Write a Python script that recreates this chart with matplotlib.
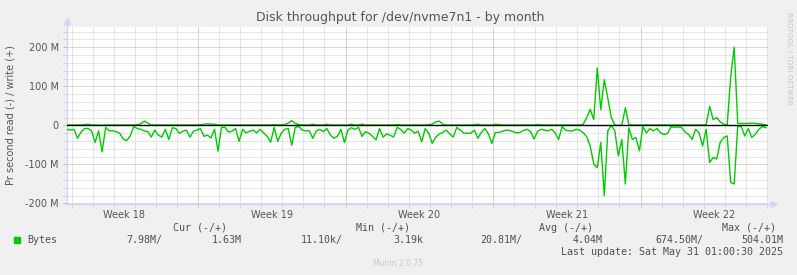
import numpy as np
import matplotlib
matplotlib.use("Agg")
import matplotlib.pyplot as plt
from matplotlib.patches import Rectangle

# ---------------- data (MB/s, 4-hour samples) ----------------
read_mb = [
    10, 12, 10, 33, 17, 8, 8, 14, 44, 14,
    68, 5, 14, 14, 16, 20, 35, 39, 27, 3,
    8, 10, 14, 16, 30, 12, 25, 30, 10, 36,
    6, 8, 20, 15,
    12, 30, 15, 12, 8, 28, 25, 32, 10, 66,
    5, 5, 17, 15, 8, 41, 10, 19, 15, 12,
    19, 10, 19, 28, 43, 5, 41, 20, 10, 8,
    51, 5, 3, 12,
    14, 14, 33, 14, 10, 16, 8, 25, 33, 28,
    10, 44, 12, 6, 10, 5, 28, 16, 20, 28,
    37, 8, 30, 22, 25, 30, 5, 10, 20, 8,
    12, 20, 15, 42,
    8, 20, 46, 30, 22, 18, 12, 22, 30, 5,
    12, 20, 20, 20, 12, 33, 18, 8, 22, 46,
    18, 18, 15, 12, 13, 16, 19, 18, 13, 10,
    16, 35, 15, 10,
    12, 14, 10, 19, 36, 3, 12, 14, 14, 10,
    12, 19, 29, 53, 99, 108, 44, 180, 14, 0,
    14, 78, 36, 150, 6, 36, 31, 65, 3, 19,
    8, 14, 8, 19, 23,
    21, 3, 5, 4, 5, 17, 23, 36, 10, 19,
    53, 10, 95, 82, 86, 44, 31, 27, 146, 150,
    2, 3, 27, 8, 31, 23, 10, 3, 6,
]
write_mb = [
    1, 1, 1, 1, 1, 2, 3, 1, 1, 1,
    0, 1, 1, 1, 1, 1, 1, 1, 1, 1,
    2, 4, 11, 6, 1, 1, 1, 1, 1, 1,
    1, 1, 1, 1, 1, 1, 1, 1, 2, 3,
    4, 3, 3, 1, 1, 1, 1, 1, 1, 1,
    1, 1, 1, 1, 1, 1, 1, 1, 1, 2,
    1, 1, 2, 6, 12, 5, 2, 1, 1, 1,
    3, 1, 1, 1, 3, 1, 1, 1, 1, 1,
    1, 3, 1, 1, 3, 1, 1, 1, 1, 1,
    1, 1, 1, 1, 2, 1, 1, 1, 1, 1,
    1, 1, 1, 2, 3, 9, 11, 3, 1, 1,
    1, 1, 1, 1, 1, 1, 2, 3, 1, 1,
    1, 1, 3, 2, 1, 1, 1, 1, 1, 1,
    1, 1, 1, 1, 2, 1, 1, 1, 1, 1,
    1, 1, 1, 1, 1, 1, 1, 3, 20, 41,
    15, 147, 40, 117, 70, 20, 1, 0, 1, 45,
    2, 1, 1, 1, 1, 1, 1, 1, 1, 1,
    1, 1, 1, 1, 1, 1, 1, 1, 1, 1,
    1, 1, 2, 49, 15, 20, 9, 3, 1, 125,
    200, 5, 5, 5, 5, 6, 5, 4, 3, 1,
]
samples_per_day = 6
week_names = ["Week 18", "Week 19", "Week 20", "Week 21", "Week 22"]
first_day_line = 0.22
first_week_start = 6.22
span_days = 33.27
y_major = [-200, -100, 0, 100, 200]
y_major_labels = ["-200 M", "-100 M", "0", "100 M", "200 M"]
y_range = (-200, 252)

title = "Disk throughput for /dev/nvme7n1 - by month"
ylabel = "Pr second read (-) / write (+)"
legend_headers = ["Cur (-/+)", "Min (-/+)", "Avg (-/+)", "Max (-/+)"]
legend_values = ["7.98M/", "1.63M", "11.10k/", "3.19k",
                 "20.81M/", "4.04M", "674.50M/", "504.01M"]
series_name = "Bytes"
last_update = "Last update: Sat May 31 01:00:30 2025"
footer = "Munin 2.0.75"
side_note = "RRDTOOL / TOBI OETIKER"

# ---------------- styling ----------------
W, H = 797, 275
BG = "#F0F0F0"
GREEN = "#00CC00"
AXIS_C = "#CFD6F8"
GRID_C = "#CFCFCF"
MGRID_C = "#E8A4A4"
TXT = "#555555"

fig = plt.figure(figsize=(W / 100, H / 100), dpi=100, facecolor=BG)
L, R, T, B = 67, 768, 27, 203.5
ax = fig.add_axes([L / W, 1 - B / H, (R - L) / W, (B - T) / H])
ax.set_facecolor("white")


def fx(px):
    return px / W


def fy(py):
    return 1 - py / H


x = np.arange(len(read_mb)) / samples_per_day
ax.set_xlim(0, span_days)
ax.set_ylim(*y_range)

# grid
day_lines = np.arange(first_day_line, span_days, 1.0)
week_lines = np.arange(first_week_start, span_days, 7.0)
week_label_pos = np.concatenate(([first_week_start - 3.5], week_lines + 3.5))
ax.set_xticks(week_label_pos[:len(week_names)], week_names)
ax.set_xticks(day_lines, minor=True)
ax.set_yticks(y_major, y_major_labels)
ax.set_yticks(np.arange(-200, 252, 20), minor=True)

dots = (0, (1, 1))
ax.grid(True, which="minor", axis="both", color=GRID_C, lw=0.72, ls=dots, zorder=0)
ax.grid(True, which="major", axis="y", color=MGRID_C, lw=0.72, ls=dots, zorder=0)
ax.grid(False, which="major", axis="x")
for wl in week_lines:
    ax.axvline(wl, ymin=-0.02, ymax=1, color=MGRID_C, lw=0.72, ls=dots,
               clip_on=False, zorder=1)

ax.tick_params(axis="x", which="major", length=0, pad=5, labelsize=7, labelcolor=TXT)
ax.tick_params(axis="x", which="minor", length=3, color=GRID_C, width=0.7)
ax.tick_params(axis="y", which="major", length=3, color=MGRID_C, width=0.7,
               pad=3, labelsize=7, labelcolor=TXT)
ax.tick_params(axis="y", which="minor", length=3, color=GRID_C, width=0.7)

for s in ["top", "right", "left", "bottom"]:
    ax.spines[s].set_visible(False)

# axis lines with arrows
ax.plot([0, 0], [0, 1.03], transform=ax.transAxes, color=AXIS_C, lw=1,
        clip_on=False, zorder=3)
ax.plot([0, 1.006], [0, 0], transform=ax.transAxes, color=AXIS_C, lw=1,
        clip_on=False, zorder=3)
ax.plot([0], [1.035], marker="^", transform=ax.transAxes, color=AXIS_C,
        markersize=4, clip_on=False, zorder=3)
ax.plot([1.008], [0], marker=">", transform=ax.transAxes, color=AXIS_C,
        markersize=4, clip_on=False, zorder=3)

# data
ax.plot(x, -np.asarray(read_mb, float), color=GREEN, lw=1.0, zorder=4)
ax.plot(x, np.asarray(write_mb, float), color=GREEN, lw=1.0, zorder=4)
ax.axhline(0, color="black", lw=1.0, zorder=5)

# texts
fig.text(fx(400), fy(18), title, ha="center", va="center", fontsize=9, color=TXT)
fig.text(fx(11), fy(115), ylabel, ha="center", va="center", rotation=90,
         fontsize=7, color=TXT)
fig.text(fx(789), fy(58), side_note, ha="center", va="center", rotation=270,
         fontsize=5.2, color="#C4C4C4")

mono = dict(family="DejaVu Sans Mono", fontsize=7.2, color="#505050")
header_right = [227, 410, 593, 776]
for h, xr in zip(legend_headers, header_right):
    fig.text(fx(xr), fy(228), h, ha="right", va="center", **mono)
value_right = [162, 242, 343, 423, 522, 603, 703, 783]
for v, xr in zip(legend_values, value_right):
    fig.text(fx(xr), fy(240), v, ha="right", va="center", **mono)
fig.text(fx(27), fy(240), series_name, ha="left", va="center", **mono)
fig.patches.append(Rectangle((fx(14), fy(243)), 6 / W, 6 / H,
                             transform=fig.transFigure, color=GREEN))
fig.text(fx(783), fy(252), last_update, ha="right", va="center", **mono)
fig.text(fx(398), fy(264), footer, ha="center", va="center", fontsize=5.5,
         color="#C8C8C8")

fig.savefig("out.png", dpi=100, facecolor=BG)
